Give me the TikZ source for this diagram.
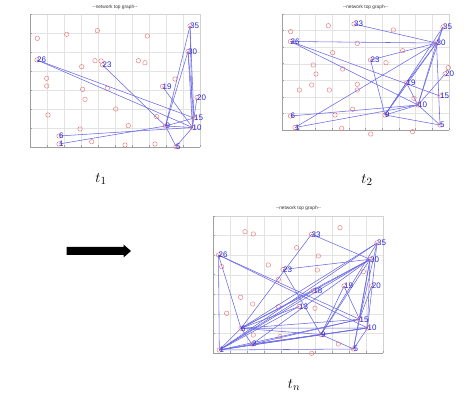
\documentclass[tikz,border=0pt]{standalone}
\usepackage{fontspec}
\newfontfamily\labfont{Liberation Sans}
\definecolor{ptred}{RGB}{235,120,120}
\definecolor{labblue}{RGB}{40,40,215}
\definecolor{edgeblue}{RGB}{105,105,230}
\newcommand\plotframe[4]{%
  \foreach \i in {1,...,9} \draw[gridl] ({#1+\i*(#3-#1)/10},#2) -- ({#1+\i*(#3-#1)/10},#4);
  \foreach \j in {1,...,6} \draw[gridl] (#1,{#2+\j*(#4-#2)/7}) -- (#3,{#2+\j*(#4-#2)/7});
  \draw[boxl] (#1,#2) -- (#3,#2) -- (#3,#4);
  \draw[axisl] (#1,#2) -- (#1,#4) -- (#3,#4);
  \foreach \i in {0,...,10} \draw[axisl] ({#1+\i*(#3-#1)/10},#4) -- ++(0,-1.8);
  \foreach \j in {0,...,7} \draw[axisl] (#1,{#2+\j*(#4-#2)/7}) -- ++(1.8,0);
}
\begin{document}
\begin{tikzpicture}[x=1pt,y=-1pt,
  nd/.style={circle,draw=ptred,line width=0.45pt,inner sep=0pt,minimum size=4.5pt},
  lab/.style={anchor=west,inner sep=0pt,text=labblue,font=\labfont\fontsize{8}{8}\selectfont},
  ed/.style={draw=edgeblue,line width=0.55pt},
  gridl/.style={draw=gray!22,line width=0.35pt},
  boxl/.style={draw=gray!35,line width=0.4pt},
  axisl/.style={draw=gray!75,line width=0.5pt},
  ttl/.style={font=\labfont\fontsize{4.8}{5}\selectfont,text=black!80,inner sep=0pt},
  tlab/.style={font=\fontsize{15}{17}\selectfont,inner sep=0pt}]
\useasboundingbox (0,0) rectangle (474,395);

% ---------- panel 1 ----------
\plotframe{30}{14}{200}{147}
\node[ttl] (title1) at (115,7) {--network top graph--};
\foreach \x/\y [count=\k] in {37.3/38.3,66.7/34.3,97.3/30.7,147.3/36,81.7/66.7,95/60.7,101/61,138.3/60.7,145/62.7,46.7/78.3,46.7/86,82.7/89.3,107.3/88.3,175/79,85/99.3,115.7/109,48/115,156.7/116.7,128.3/125.7,80/129,91.7/141.7,125/145,155/144}
  \node[nd] (ra\k) at (\x,\y) {};
\foreach \n/\x/\y in {a35/190/26,a30/188/51.5,a26/37/60,a23/102.5/65,a19/162.5/86.5,a20/197/97.5,a15/194/118,a10/192.5/127.5,a9/165.5/126,a5/176/146.5,a6/59/136,a1/59/144}
  \coordinate (\n) at (\x,\y);
\foreach \a/\b in {a26/a15,a26/a10,a23/a9,a9/a35,a9/a30,a35/a15,a35/a10,a30/a10,a30/a15,a19/a10,a9/a10,a9/a15,a9/a5,a10/a5,a6/a10,a1/a9,a20/a10}
  \draw[ed] (\a) -- (\b);
\foreach \n/\t in {a35/35,a30/30,a26/26,a23/23,a19/19,a20/20,a15/15,a10/10,a9/9,a5/5,a6/6,a1/1}
  {\node[nd] (c\n) at (\n) {}; \node[lab] (l\n) at (\n) {\t};}

% ---------- panel 2 ----------
\plotframe{282}{14}{449}{130}
\node[ttl] (title2) at (365.5,7) {--network top graph--};
\foreach \x/\y [count=\k] in {290.7/31.7,328.3/25.7,393.3/30,357.3/43.3,332.7/52.7,402.7/50.7,313.3/65,316/74,342.7/69,386/62.7,448.3/67.7,357.3/84.3,311.7/85,299.3/90,329.3/90,357.3/90,414/98.3,352.7/109.3,335/115,341.7/128.3,370.7/134,412.7/131.7}
  \node[nd] (rb\k) at (\x,\y) {};
\foreach \n/\x/\y in {b33/354/24,b35/443/27,b26/290.5/41.5,b30/436.5/43,b23/370.5/60,b20/445/74,b19/406.5/83,b15/440/96,b10/418/105,b6/290.5/116,b9/385/115,b5/440/125,b1/295/127.5}
  \coordinate (\n) at (\x,\y);
\foreach \a/\b in {b33/b30,b26/b30,b26/b15,b26/b10,b23/b30,b23/b9,b1/b30,b1/b10,b6/b10,b9/b30,b9/b35,b9/b19,b9/b10,b9/b5,b10/b30,b10/b35,b10/b20,b10/b5,b19/b30,b35/b30,b30/b5,b19/b10}
  \draw[ed] (\a) -- (\b);
\foreach \n/\t in {b33/33,b35/35,b26/26,b30/30,b23/23,b20/20,b19/19,b15/15,b10/10,b6/6,b9/9,b5/5,b1/1}
  {\node[nd] (c\n) at (\n) {}; \node[lab] (l\n) at (\n) {\t};}

% ---------- panel 3 ----------
\plotframe{213}{216}{383}{353}
\node[ttl] (title3) at (298.5,208) {--network top graph--};
\foreach \x/\y [count=\k] in {245/231.7,253.3/234,340/227.7,296.7/247.7,318.3/256,221.7/266.7,268.3/265,317.3/270,363.3/271.7,278.3/279.3,240.7/297.3,252.7/304,278.3/306.7,315/308.3,226.7/313.3,253.3/335,280/336.7,338.3/344,311.7/353.3}
  \node[nd] (rc\k) at (\x,\y) {};
\foreach \n/\x/\y in {c33/311.5/234.3,c35/377/243,c26/218.5/255,c30/370/259.3,c23/283/269.5,c18/313.3/290.8,c19/344/286,c20/371.7/286,c13/299/306.5,c15/359.5/319.3,c10/367.5/328,c6/241/328.3,c9/321/334.5,c2/252/344.2,c1/219.3/350,c5/353.5/349}
  \coordinate (\n) at (\x,\y);
\foreach \a/\b in {c26/c1,c26/c6,c26/c15,c26/c10,c33/c6,c33/c30,c23/c30,c23/c9,c1/c35,c1/c30,c6/c35,c6/c30,c1/c18,c6/c18,c19/c9,c19/c15,c30/c15,c35/c15,c30/c10,c35/c10,c20/c15,c30/c5,c6/c15,c6/c10,c6/c9,c1/c15,c1/c10,c1/c9,c1/c5,c2/c15,c2/c9,c2/c10,c1/c2,c9/c5,c10/c5,c15/c5,c9/c10,c9/c30,c9/c35,c2/c30,c13/c1,c6/c2,c1/c6,c18/c30,c13/c6}
  \draw[ed] (\a) -- (\b);
\foreach \n/\t in {c33/33,c35/35,c26/26,c30/30,c23/23,c18/18,c19/19,c20/20,c13/13,c15/15,c10/10,c6/6,c9/9,c2/2,c1/1,c5/5}
  {\node[nd] (c\n) at (\n) {}; \node[lab] (l\n) at (\n) {\t};}

% ---------- time labels and arrow ----------
\node[tlab] (t1) at (101,179) {$t_1$};
\node[tlab] (t2) at (367,180) {$t_2$};
\node[tlab] (tn) at (294,385) {$t_n$};
\fill[black] (66.7,247) -- (123.5,247) -- (123.5,244.5) -- (131,251) -- (123.5,257.5) -- (123.5,255) -- (66.7,255) -- cycle;
\end{tikzpicture}
\end{document}
